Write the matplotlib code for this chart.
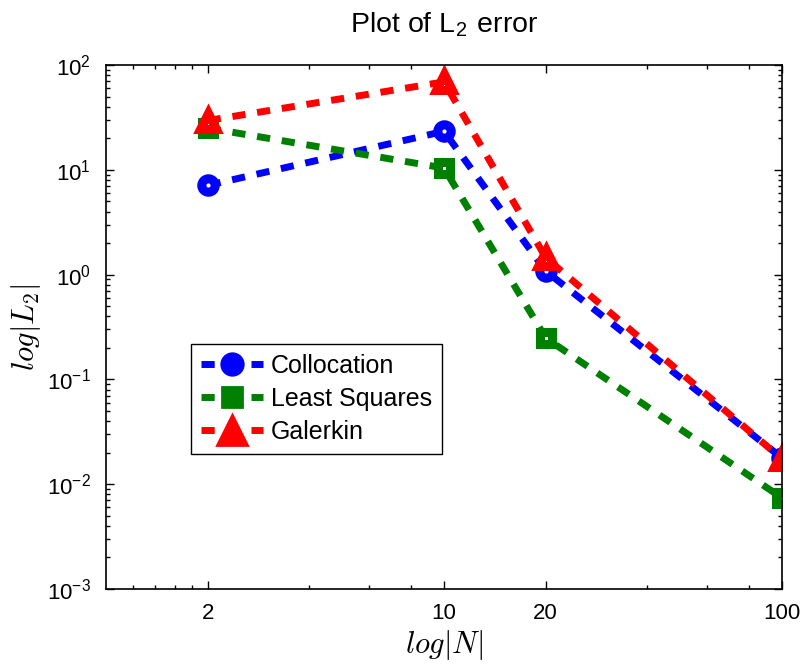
import matplotlib
matplotlib.use("Agg")
import matplotlib.pyplot as plt

plt.rcParams['font.family'] = ['Liberation Sans', 'DejaVu Sans']
plt.rcParams['mathtext.fontset'] = 'cm'

# ---- data ----
N = [2, 10, 20, 100]
collocation = [7.1, 23.3, 1.08, 0.0178]
least_squares = [25.0, 10.4, 0.248, 0.0074]
galerkin = [29.5, 69.0, 1.45, 0.0174]

series_names = ['Collocation', 'Least Squares', 'Galerkin']
x_major = [2, 10, 20, 100]
x_major_labels = ['2', '10', '20', '100']
x_minor = [1.2, 1.4, 1.6, 1.8, 4, 6, 8, 40, 60, 80]

fig = plt.figure(figsize=(8.11, 6.65), dpi=100)
ax = fig.add_axes([106 / 811, 1 - 589 / 665, 676 / 811, 524 / 665])

lw = 5
dash = (1.9, 1.7)
styles = [
    dict(color='#0000ff', marker='o', ms=9.7, lms=15.5),
    dict(color='#008000', marker='s', ms=8.3, lms=14.0),
    dict(color='#ff0000', marker='^', ms=12.0, lms=21.0),
]
for vals, name, st in zip([collocation, least_squares, galerkin], series_names, styles):
    ax.plot(N, vals, linestyle=(0, dash), lw=lw, color=st['color'],
            marker=st['marker'], ms=st['ms'], mew=6.5,
            mfc='white', mec=st['color'], label=name, dash_capstyle='butt')

ax.set_xscale('log')
ax.set_yscale('log')
ax.set_xlim(1, 100)
ax.set_ylim(1e-3, 1e2)

ax.set_xticks(x_major)
ax.set_xticklabels(x_major_labels)
ax.set_xticks(x_minor, minor=True)
ax.xaxis.set_minor_formatter(matplotlib.ticker.NullFormatter())

ax.tick_params(which='both', direction='in', top=True, right=True, width=1, colors='black')
ax.tick_params(which='major', length=6)
ax.tick_params(which='minor', length=3)
ax.tick_params(axis='x', which='both', pad=10, labelsize=16)
ax.tick_params(axis='y', which='both', pad=11, labelsize=16)

for sp in ax.spines.values():
    sp.set_linewidth(1.2)

ax.set_xlabel(r'$log|N|$', fontsize=22, labelpad=3)
ax.set_ylabel(r'$log|L_2|$', fontsize=22, labelpad=3)
ax.set_title(r'Plot of L$_\mathdefault{2}$ error', fontsize=20.5, pad=24)

leg = ax.legend(loc='lower left', bbox_to_anchor=(0.126, 0.258), borderaxespad=0,
                fontsize=18, fancybox=False, framealpha=1, edgecolor='black',
                handlelength=2.48, handletextpad=0.3, borderpad=0.4,
                labelspacing=0.36)
leg.get_frame().set_linewidth(1.0)
for h, st in zip(leg.legend_handles, styles):
    h.set_markerfacecolor(st['color'])
    h.set_markeredgewidth(2)
    h.set_markersize(st['lms'])

fig.savefig('out.png', dpi=100)
